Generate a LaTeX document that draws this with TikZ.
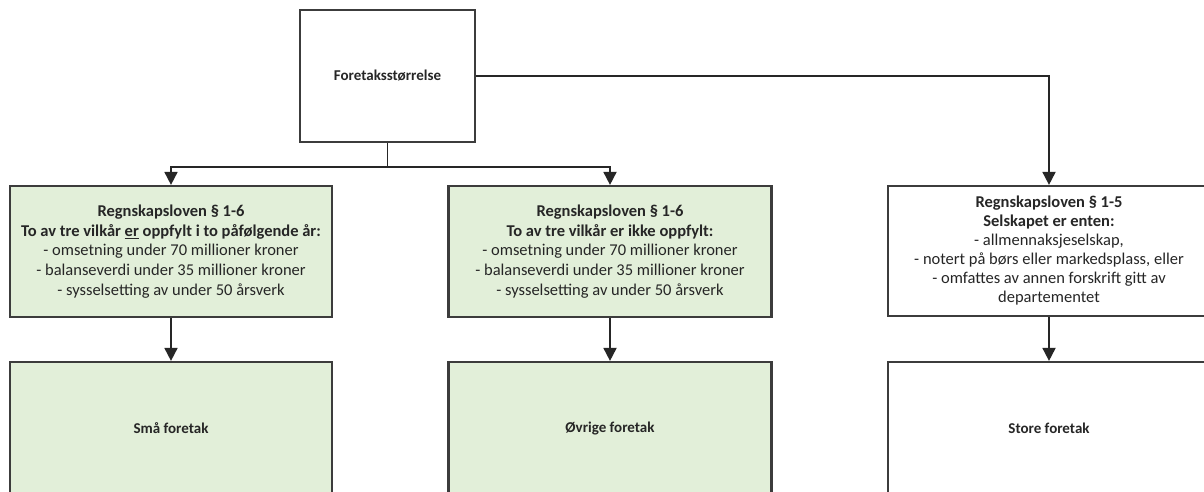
\documentclass[tikz,border=0pt]{standalone}
\usepackage{fontspec}
\setmainfont{Carlito}
\usetikzlibrary{arrows.meta}
\definecolor{boxgreen}{HTML}{E2EFD9}
\definecolor{boxline}{HTML}{3C3C3C}
\tikzset{
  box/.style={draw=boxline, line width=2.2pt, inner sep=0pt, align=center,
    font=\fontsize{15}{19.3}\selectfont, text=black!85},
  greenbox/.style={box, fill=boxgreen},
  whitebox/.style={box, fill=white},
  listfont/.style={font=\fontsize{16.5}{19.6}\selectfont},
  conn/.style={draw=black!85, line width=1.8pt, -{Triangle[width=13pt,length=13pt]}},
  plainconn/.style={draw=black!85, line width=1.8pt}
}
\begin{document}
\begin{tikzpicture}[x=1pt,y=-1pt]
\clip (0,0) rectangle (1204,491);
\fill[white] (0,0) rectangle (1204,491);
\node[whitebox, minimum width=175pt, minimum height=132pt] (top) at (387.5,76) {\textbf{Foretaksstørrelse}};
\node[greenbox, listfont, minimum width=322pt, minimum height=131pt] (b1) at (171,251.5)
 {\textbf{Regnskapsloven § 1-6}\\\textbf{To av tre vilkår \underline{er} oppfylt i to påfølgende år:}\\- omsetning under 70 millioner kroner\\- balanseverdi under 35 millioner kroner\\- sysselsetting av under 50 årsverk};
\node[greenbox, listfont, minimum width=323pt, minimum height=131pt] (b2) at (610,251.5)
 {\textbf{Regnskapsloven § 1-6}\\\textbf{To av tre vilkår er ikke oppfylt:}\\- omsetning under 70 millioner kroner\\- balanseverdi under 35 millioner kroner\\- sysselsetting av under 50 årsverk};
\node[whitebox, minimum width=322pt, minimum height=130pt, font=\fontsize{16.5}{19}\selectfont] (b3) at (1049,251)
 {\textbf{Regnskapsloven § 1-5}\\\textbf{Selskapet er enten:}\\- allmennaksjeselskap,\\- notert på børs eller markedsplass, eller\\- omfattes av annen forskrift gitt av\\departementet};
\node[greenbox, minimum width=322pt, minimum height=132pt] (c1) at (171,428) {\textbf{Små foretak}};
\node[greenbox, minimum width=323pt, minimum height=132pt] (c2) at (610,428) {\textbf{Øvrige foretak}};
\node[whitebox, minimum width=322pt, minimum height=132pt] (c3) at (1049,428) {\textbf{Store foretak}};
\coordinate (j) at (387.5,167);
\draw[plainconn] (top.south) -- (j);
\draw[conn] (j) -| (b1.north);
\draw[conn] (j) -| (b2.north);
\draw[conn] (top.east) -| (b3.north);
\draw[conn] (b1.south) -- (c1.north);
\draw[conn] (b2.south) -- (c2.north);
\draw[conn] (b3.south) -- (c3.north);
\end{tikzpicture}
\end{document}
